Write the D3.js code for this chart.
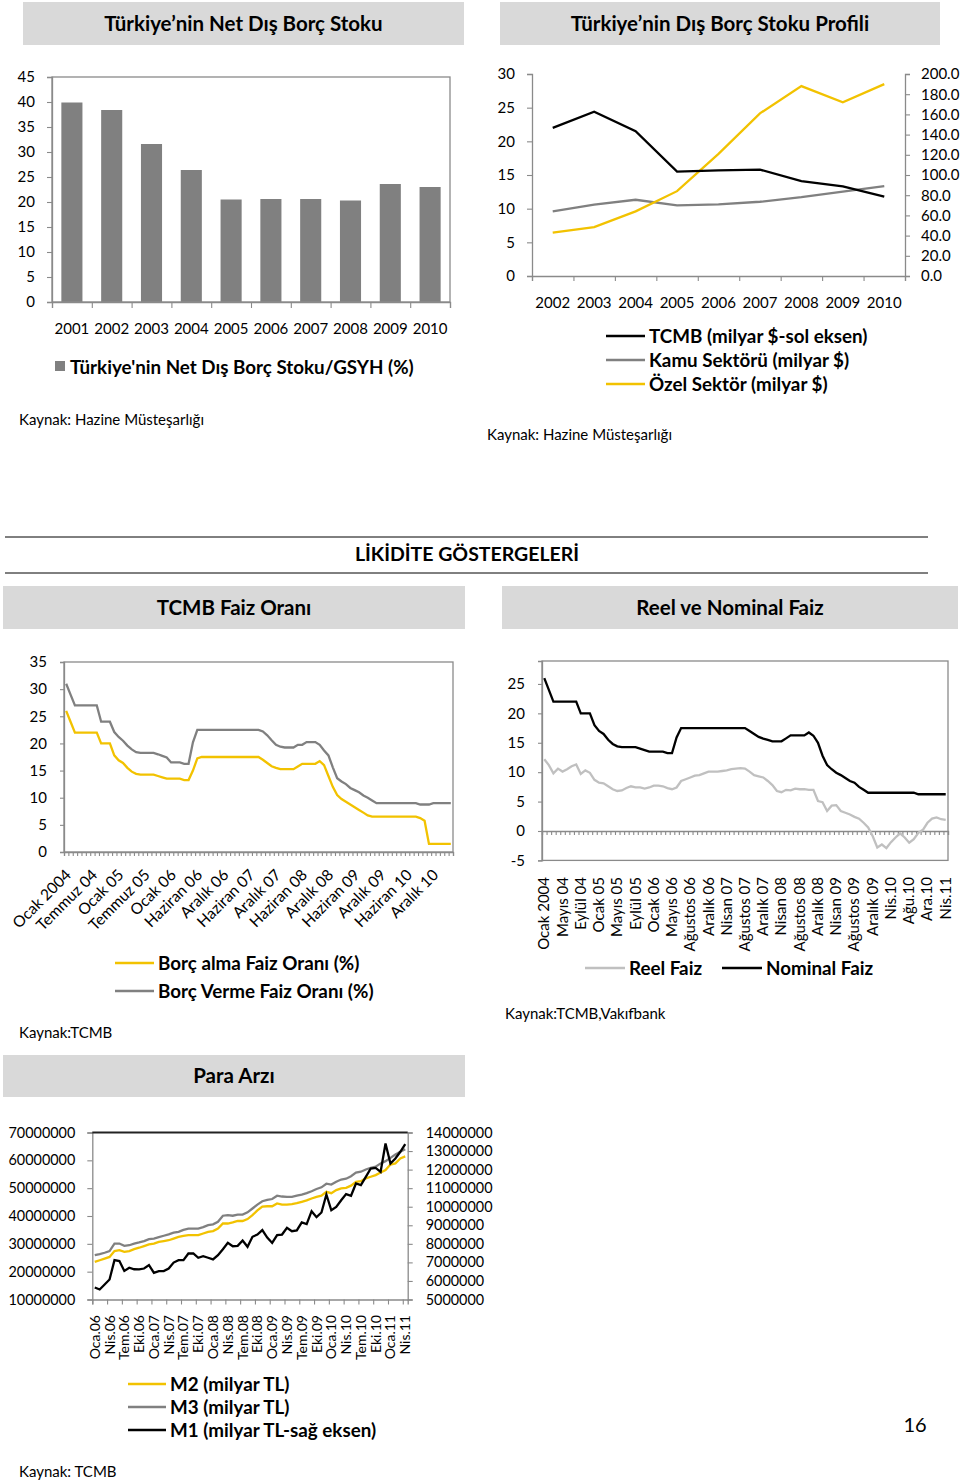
<!DOCTYPE html>
<html><head><meta charset="utf-8">
<script src="https://cdn.jsdelivr.net/npm/d3@7"></script>
<style>body{margin:0;background:#fff}svg{font-family:Lato,'Open Sans',sans-serif;display:block}</style>
</head><body><svg id="c" width="960" height="1481"></svg>
<script>
// ---------------- DATA ----------------
const barYears = ["2001","2002","2003","2004","2005","2006","2007","2008","2009","2010"];
const netDebtGDP = [39.9,38.4,31.6,26.4,20.5,20.6,20.6,20.3,23.6,23.0];

const profileYears = ["2002","2003","2004","2005","2006","2007","2008","2009","2010"];
const tcmbDebt = [22.0,24.4,21.5,15.5,15.7,15.8,14.1,13.3,11.8];      // left axis
const publicDebt = [64.0,70.7,75.5,70.0,71.0,73.5,78.0,83.5,89.0];   // right axis
const privateDebt = [43.0,48.5,64.0,84.0,121.0,161.0,188.0,172.0,190.0]; // right axis

const faizTickLabels = ["Ocak 2004","Temmuz 04","Ocak 05","Temmuz 05","Ocak 06","Haziran 06","Aralık 06","Haziran 07","Aralık 07","Haziran 08","Aralık 08","Haziran 09","Aralık 09","Haziran 10","Aralık 10"];
const borcAlma = [26,24,22,22,22,22,22,22,20,20,20,17.8,16.9,16.4,15.5,14.8,14.4,14.25,14.25,14.25,14.25,14.0,13.75,13.5,13.5,13.5,13.5,13.25,13.25,15.0,17.25,
 17.5,17.5,17.5,17.5,17.5,17.5,17.5,17.5,17.5,17.5,17.5,17.5,17.5,17.5,
 17.0,16.4,15.8,15.5,15.25,15.25,15.25,15.25,15.75,16.25,16.25,16.25,16.25,16.75,16.0,14.0,12.0,10.5,9.75,9.25,8.75,8.25,7.75,7.25,6.75,6.5,
 6.5,6.5,6.5,6.5,6.5,6.5,6.5,6.5,6.5,6.5,6.25,5.75,1.5,1.5,1.5,1.5,1.5,1.5];
const borcVerme = [31,29,27,27,27,27,27,27,24,24,24,22.1,21.2,20.5,19.6,18.9,18.4,18.25,18.25,18.25,18.25,18.0,17.7,17.4,16.5,16.5,16.5,16.25,16.25,20.2,22.5,
 22.5,22.5,22.5,22.5,22.5,22.5,22.5,22.5,22.5,22.5,22.5,22.5,22.5,22.5,
 22.2,21.5,20.6,19.75,19.4,19.25,19.25,19.25,19.75,19.75,20.25,20.25,20.25,19.75,18.7,17.8,15.6,13.6,13.0,12.5,11.8,11.4,11.0,10.4,10.0,9.5,
 9.0,9.0,9.0,9.0,9.0,9.0,9.0,9.0,9.0,9.0,8.75,8.75,8.75,9.0,9.0,9.0,9.0,9.0];

const reelTickLabels = ["Ocak 2004","Mayıs 04","Eylül 04","Ocak 05","Mayıs 05","Eylül 05","Ocak 06","Mayıs 06","Ağustos 06","Aralık 06","Nisan 07","Ağustos 07","Aralık 07","Nisan 08","Ağustos 08","Aralık 08","Nisan 09","Ağustos 09","Aralık 09","Nis.10","Ağu.10","Ara.10","Nis.11"];
const nominalFaiz = [26,24,22,22,22,22,22,22,20,20,20,18,17,16.5,15.5,14.8,14.4,14.25,14.25,14.25,14.25,14.0,13.75,13.5,13.5,13.5,13.5,13.25,13.25,15.9,
 17.5,17.5,17.5,17.5,17.5,17.5,17.5,17.5,17.5,17.5,17.5,17.5,17.5,17.5,17.5,
 17.0,16.5,16.0,15.7,15.5,15.25,15.25,15.25,15.75,16.25,16.25,16.25,16.25,16.75,16.2,15.0,12.8,11.2,10.5,9.9,9.5,9.0,8.5,8.2,7.5,7.0,
 6.5,6.5,6.5,6.5,6.5,6.5,6.5,6.5,6.5,6.5,6.5,6.25,6.25,6.25,6.25,6.25,6.25,6.25];
const reelFaiz = [12.2,11.2,9.8,10.6,10.1,10.5,11.0,11.3,9.7,10.3,9.9,8.7,8.2,8.1,7.6,7.1,6.8,6.9,7.3,7.6,7.4,7.4,7.2,7.4,7.7,7.7,7.6,7.3,7.1,7.4,
 8.5,8.8,9.1,9.4,9.5,9.8,10.1,10.1,10.1,10.2,10.3,10.5,10.6,10.7,10.6,10.1,9.5,9.3,9.1,8.5,7.8,6.8,6.6,7.0,6.9,7.2,7.1,7.1,7.0,7.0,
 5.1,4.9,3.4,4.3,4.4,3.4,3.1,2.8,2.4,2.1,1.4,0.6,-0.9,-2.8,-2.3,-2.9,-1.9,-1.1,-0.4,-1.1,-2.0,-1.4,-0.3,0.2,1.4,2.1,2.3,2.0,1.9];

const paraTickLabels = ["Oca.06","Nis.06","Tem.06","Eki.06","Oca.07","Nis.07","Tem.07","Eki.07","Oca.08","Nis.08","Tem.08","Eki.08","Oca.09","Nis.09","Tem.09","Eki.09","Oca.10","Nis.10","Tem.10","Eki.10","Oca.11","Nis.11"];
const m3 = [25.9,26.3,26.8,27.4,30.1,30.1,29.3,29.5,30.1,30.5,31.0,31.7,31.9,32.4,32.9,33.4,34.0,34.3,35.0,35.5,35.5,35.5,36.0,36.7,37.0,37.9,40.1,40.3,40.1,40.5,40.5,41.3,
 42.7,44.1,45.3,45.8,46.1,47.3,47.0,46.9,46.9,47.3,47.7,48.2,48.9,49.7,50.3,51.6,51.3,52.3,53.1,53.4,54.3,55.6,55.9,56.7,57.3,57.7,58.9,59.7,60.9,62.1,63.1,64.0];
const m2 = [23.5,24.1,24.7,25.3,27.4,27.7,27.1,27.4,28.1,28.6,29.2,29.8,30.1,30.7,31.0,31.3,31.9,32.5,32.9,33.1,33.1,33.1,33.7,34.3,34.6,35.5,37.3,37.3,37.7,38.2,38.2,38.9,
 40.3,42.0,43.4,43.5,43.5,44.5,44.1,44.1,44.3,44.6,45.1,45.6,46.3,46.9,47.3,48.7,48.2,49.3,49.9,50.1,50.9,52.3,52.5,53.5,54.1,54.7,55.6,56.5,58.5,58.9,60.7,61.4];
const m1 = [5.65,5.54,5.81,6.08,7.12,7.07,6.54,6.71,6.63,6.62,6.67,6.85,6.44,6.53,6.53,6.67,6.99,7.12,7.12,7.48,7.48,7.25,7.33,7.25,7.16,7.39,7.71,8.05,7.87,7.89,8.18,7.84,
 8.38,8.50,8.74,8.34,8.05,8.47,8.50,8.86,8.68,8.72,9.15,9.06,9.76,9.44,9.69,10.66,9.81,9.99,10.35,10.68,10.59,11.25,11.16,11.61,12.06,12.09,11.88,13.41,12.33,12.60,12.96,13.37];

// ---------------- DRAW ----------------
const svg = d3.select("#c");
const FONT = "Lato, 'Open Sans', sans-serif";
const AX = "#8a8a8a", GOLD = "#f2c200", GRAY = "#808080", LGRAY = "#c0c0c0";
const HSIZE = 20.5, LSIZE = 18.8, KSIZE = 15;

function header(x0,x1,y0,y1,t,size){
  svg.append("rect").attr("x",x0).attr("y",y0).attr("width",x1-x0).attr("height",y1-y0).attr("fill","#d9d9d9");
  svg.append("text").attr("x",(x0+x1)/2).attr("y",(y0+y1)/2).attr("dy","0.36em")
    .attr("text-anchor","middle").attr("font-weight","bold").attr("font-size",size).text(t);
}
function txt(x,y,t,size,opts={}){
  return svg.append("text").attr("x",x).attr("y",y).attr("dy","0.35em").attr("font-size",size)
    .attr("font-weight",opts.bold?"bold":"normal").attr("text-anchor",opts.anchor||"start").text(t);
}
function styleAxis(g,size){
  g.attr("font-family",FONT).attr("font-size",size);
  g.select(".domain").attr("stroke",AX).attr("stroke-width",1.3);
  g.selectAll(".tick line").attr("stroke",AX).attr("stroke-width",1.1);
  g.selectAll(".tick text").attr("fill","#000");
  return g;
}
function frame(x0,y0,x1,y1){
  svg.append("rect").attr("x",x0).attr("y",y0).attr("width",x1-x0).attr("height",y1-y0)
    .attr("fill","none").attr("stroke",AX).attr("stroke-width",1.3);
}
function legendLine(x0,x1,y,color,label,size){
  svg.append("line").attr("x1",x0).attr("x2",x1).attr("y1",y).attr("y2",y).attr("stroke",color).attr("stroke-width",2.5);
  txt(x1+4,y,label,size,{bold:true});
}
const plain = d => String(d);

// ===== Panel 1: Net dış borç stoku (bars)
header(23,464,2,45,"Türkiye’nin Net Dış Borç Stoku",HSIZE);
{
  const x0=52,x1=450,yTop=77,yBot=302;
  const bx = d3.scaleBand(barYears,[x0,x1]).paddingInner(0.47).paddingOuter(0.235);
  const by = d3.scaleLinear([0,45],[yBot,yTop]);
  svg.append("g").selectAll("rect").data(netDebtGDP).join("rect")
    .attr("x",(d,i)=>bx(barYears[i])).attr("width",bx.bandwidth())
    .attr("y",d=>by(d)).attr("height",d=>by(0)-by(d)).attr("fill","#808080");
  frame(x0,yTop,x1,yBot);
  styleAxis(svg.append("g").attr("transform",`translate(${x0},0)`)
    .call(d3.axisLeft(by).tickValues(d3.range(0,46,5)).tickSize(5).tickPadding(12).tickFormat(plain)),15);
  const bb = d3.scaleLinear([0,barYears.length],[x0,x1]);
  styleAxis(svg.append("g").attr("transform",`translate(0,${yBot})`)
    .call(d3.axisBottom(bb).tickValues(d3.range(barYears.length+1)).tickSize(6).tickFormat("")),15);
  svg.append("g").selectAll("text").data(barYears).join("text")
    .attr("x",d=>bx(d)+bx.bandwidth()/2).attr("y",329).attr("dy","0.35em")
    .attr("text-anchor","middle").attr("font-size",15).text(d=>d);
  svg.append("rect").attr("x",55).attr("y",361).attr("width",10).attr("height",10).attr("fill","#808080");
  txt(70,367,"Türkiye'nin Net Dış Borç Stoku/GSYH (%)",LSIZE,{bold:true});
  txt(19,420,"Kaynak: Hazine Müsteşarlığı",KSIZE);
}

// ===== Panel 2: Dış borç stoku profili
header(500,940,2,45,"Türkiye’nin Dış Borç Stoku Profili",HSIZE);
{
  const x0=532,x1=905,yTop=74,yBot=276;
  const px = d3.scaleBand(profileYears,[x0,x1]);
  const yL = d3.scaleLinear([0,30],[yBot,yTop]);
  const yR = d3.scaleLinear([0,200],[yBot,yTop]);
  styleAxis(svg.append("g").attr("transform",`translate(${x0},0)`)
    .call(d3.axisLeft(yL).tickValues(d3.range(0,31,5)).tickSize(5).tickPadding(12).tickFormat(plain)),15);
  styleAxis(svg.append("g").attr("transform",`translate(${x1},0)`)
    .call(d3.axisRight(yR).tickValues(d3.range(0,201,20)).tickSize(5).tickPadding(11).tickFormat(d=>d.toFixed(1))),15);
  const pb = d3.scaleLinear([0,profileYears.length],[x0,x1]);
  styleAxis(svg.append("g").attr("transform",`translate(0,${yBot})`)
    .call(d3.axisBottom(pb).tickValues(d3.range(profileYears.length+1)).tickSize(5).tickFormat("")),15);
  svg.append("g").selectAll("text").data(profileYears).join("text")
    .attr("x",d=>px(d)+px.bandwidth()/2).attr("y",303).attr("dy","0.35em")
    .attr("text-anchor","middle").attr("font-size",15).text(d=>d);
  const cx = (d,i)=>px(profileYears[i])+px.bandwidth()/2;
  const lineL = d3.line().x(cx).y(d=>yL(d));
  const lineR = d3.line().x(cx).y(d=>yR(d));
  svg.append("path").attr("d",lineR(publicDebt)).attr("fill","none").attr("stroke",GRAY).attr("stroke-width",2.3);
  svg.append("path").attr("d",lineR(privateDebt)).attr("fill","none").attr("stroke",GOLD).attr("stroke-width",2.3);
  svg.append("path").attr("d",lineL(tcmbDebt)).attr("fill","none").attr("stroke","#000").attr("stroke-width",2.3);
  legendLine(606,645,336,"#000","TCMB (milyar $-sol eksen)",LSIZE);
  legendLine(606,645,360,GRAY,"Kamu Sektörü (milyar $)",LSIZE);
  legendLine(606,645,384,GOLD,"Özel Sektör (milyar $)",LSIZE);
  txt(487,435,"Kaynak: Hazine Müsteşarlığı",KSIZE);
}

// ===== Section header
svg.append("line").attr("x1",5).attr("x2",928).attr("y1",537).attr("y2",537).attr("stroke","#000").attr("stroke-width",1);
svg.append("line").attr("x1",5).attr("x2",928).attr("y1",573).attr("y2",573).attr("stroke","#000").attr("stroke-width",1);
txt(467,554,"LİKİDİTE GÖSTERGELERİ",19.5,{bold:true,anchor:"middle"});

header(3,465,586,629,"TCMB Faiz Oranı",HSIZE);
header(502,958,586,629,"Reel ve Nominal Faiz",HSIZE);

// ===== Panel 3: TCMB faiz oranı
{
  const n = borcAlma.length;
  const x0=64,x1=453,yTop=662,yBot=852;
  const xb = d3.scaleLinear([0,n],[x0,x1]);
  const y = d3.scaleLinear([0,35],[yBot,yTop]);
  frame(x0,yTop,x1,yBot);
  styleAxis(svg.append("g").attr("transform",`translate(${x0},0)`)
    .call(d3.axisLeft(y).tickValues(d3.range(0,36,5)).tickSize(4).tickPadding(13).tickFormat(plain)),15);
  styleAxis(svg.append("g").attr("transform",`translate(0,${yBot})`)
    .call(d3.axisBottom(xb).tickValues(d3.range(n+1)).tickSize(4).tickFormat("")),15);
  const line = d3.line().x((d,i)=>xb(i+0.5)).y(d=>y(d));
  svg.append("path").attr("d",line(borcVerme)).attr("fill","none").attr("stroke",GRAY).attr("stroke-width",2.3);
  svg.append("path").attr("d",line(borcAlma)).attr("fill","none").attr("stroke",GOLD).attr("stroke-width",2.3);
  svg.append("g").selectAll("text").data(faizTickLabels).join("text")
    .attr("transform",(d,k)=>`translate(${xb(k*6+0.5)+6},${876}) rotate(-45)`)
    .attr("text-anchor","end").attr("font-size",15.5).text(d=>d);
  legendLine(115,154,963,GOLD,"Borç alma Faiz Oranı (%)",LSIZE);
  legendLine(115,154,991,GRAY,"Borç Verme Faiz Oranı (%)",LSIZE);
  txt(19,1033,"Kaynak:TCMB",KSIZE);
}

// ===== Panel 4: Reel ve nominal faiz
{
  const n = nominalFaiz.length;
  const x0=542,x1=948,yTop=661,yBot=860.4;
  const xb = d3.scaleLinear([0,n],[x0,x1]);
  const y = d3.scaleLinear([-5,28.9],[yBot,yTop]);
  frame(x0,yTop,x1,yBot);
  styleAxis(svg.append("g").attr("transform",`translate(${x0},0)`)
    .call(d3.axisLeft(y).tickValues(d3.range(-5,26,5)).tickSize(4).tickPadding(13).tickFormat(plain)),15);
  styleAxis(svg.append("g").attr("transform",`translate(0,${y(0)})`)
    .call(d3.axisBottom(xb).tickValues(d3.range(n+1)).tickSize(4).tickFormat("")),15);
  const line = d3.line().x((d,i)=>xb(i+0.5)).y(d=>y(d));
  svg.append("path").attr("d",line(reelFaiz)).attr("fill","none").attr("stroke",LGRAY).attr("stroke-width",2.3);
  svg.append("path").attr("d",line(nominalFaiz)).attr("fill","none").attr("stroke","#000").attr("stroke-width",2.3);
  svg.append("g").selectAll("text").data(reelTickLabels).join("text")
    .attr("transform",(d,k)=>`translate(${xb(k*4+0.5)+5},${877}) rotate(-90)`)
    .attr("text-anchor","end").attr("font-size",15).text(d=>d);
  legendLine(585,625,968,LGRAY,"Reel Faiz",LSIZE);
  legendLine(722,762,968,"#000","Nominal Faiz",LSIZE);
  txt(505,1014,"Kaynak:TCMB,Vakıfbank",KSIZE);
}

// ===== Panel 5: Para arzı
header(3,465,1055,1097,"Para Arzı",HSIZE);
{
  const n = m2.length;
  const x0=92.3,x1=407.7,yTop=1132.5,yBot=1299.5;
  const xb = d3.scaleLinear([0,n],[x0,x1]);
  const yL = d3.scaleLinear([10e6,70e6],[yBot,yTop]);
  const yR = d3.scaleLinear([5e6,14e6],[yBot,yTop]);
  styleAxis(svg.append("g").attr("transform",`translate(${x0},0)`)
    .call(d3.axisLeft(yL).tickValues(d3.range(10e6,70e6+1,10e6)).tickSize(5).tickPadding(12).tickFormat(plain)),14.4);
  styleAxis(svg.append("g").attr("transform",`translate(${x1},0)`)
    .call(d3.axisRight(yR).tickValues(d3.range(5e6,14e6+1,1e6)).tickSize(5).tickPadding(13).tickFormat(plain)),14.4);
  styleAxis(svg.append("g").attr("transform",`translate(0,${yBot})`)
    .call(d3.axisBottom(xb).tickValues(d3.range(0,n,3)).tickSize(5).tickFormat("")),15);
  svg.append("line").attr("x1",x0).attr("x2",x1).attr("y1",yTop).attr("y2",yTop).attr("stroke","#222").attr("stroke-width",1.8);
  const lineL = d3.line().x((d,i)=>xb(i+0.5)).y(d=>yL(d*1e6));
  const lineR = d3.line().x((d,i)=>xb(i+0.5)).y(d=>yR(d*1e6));
  svg.append("path").attr("d",lineL(m3)).attr("fill","none").attr("stroke",GRAY).attr("stroke-width",2.3);
  svg.append("path").attr("d",lineL(m2)).attr("fill","none").attr("stroke",GOLD).attr("stroke-width",2.3);
  svg.append("path").attr("d",lineR(m1)).attr("fill","none").attr("stroke","#000").attr("stroke-width",2.3);
  svg.append("g").selectAll("text").data(paraTickLabels).join("text")
    .attr("transform",(d,k)=>`translate(${xb(k*3+0.5)+5},${1315}) rotate(-90)`)
    .attr("text-anchor","end").attr("font-size",14).text(d=>d);
  legendLine(128,166,1384,GOLD,"M2 (milyar TL)",LSIZE);
  legendLine(128,166,1407,GRAY,"M3 (milyar TL)",LSIZE);
  legendLine(128,166,1430,"#000","M1 (milyar TL-sağ eksen)",LSIZE);
  txt(915,1425,"16",20,{anchor:"middle"});
  txt(19,1472,"Kaynak: TCMB",KSIZE);
}
</script></body></html>
